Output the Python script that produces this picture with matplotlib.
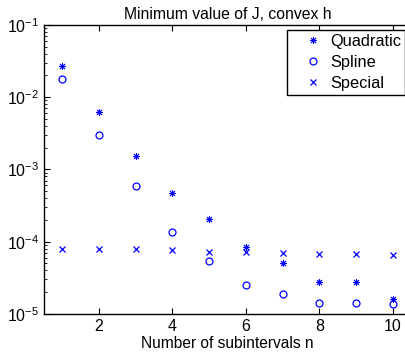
import numpy as np
import matplotlib.pyplot as plt

plt.rcParams['font.family'] = ['Liberation Sans', 'DejaVu Sans']
plt.rcParams['mathtext.fontset'] = 'custom'
plt.rcParams['mathtext.rm'] = 'Liberation Sans'

n = np.arange(1, 11)
quadratic = [2.7e-2, 6.25e-3, 1.54e-3, 4.66e-4, 2.03e-4, 8.45e-5, 5.0e-5, 2.77e-5, 2.77e-5, 1.62e-5]
spline = [1.79e-2, 3.0e-3, 5.9e-4, 1.36e-4, 5.4e-5, 2.52e-5, 1.86e-5, 1.42e-5, 1.42e-5, 1.38e-5]
special = [7.94e-5, 7.94e-5, 7.9e-5, 7.7e-5, 7.3e-5, 7.1e-5, 6.9e-5, 6.7e-5, 6.7e-5, 6.6e-5]

fig = plt.figure(figsize=(4.06, 3.6), dpi=100)
ax = fig.add_axes([0.108, 0.128, 0.905, 0.803])

# asterisk like matlab's '*': 8 spokes
ax.semilogy(n, quadratic, color='b', marker=(8, 2, 0), ms=5, mew=0.7,
            label='Quadratic', linestyle='none')
ax.semilogy(n, spline, 'bo', ms=5, mfc='none', mew=0.9, label='Spline', linestyle='none')
ax.semilogy(n, special, 'bx', ms=4.5, mew=0.9, label='Special', linestyle='none')

ax.set_xlim(0.5, 10.5)
ax.set_ylim(1e-5, 1e-1)
ax.set_xticks([2, 4, 6, 8, 10])
ax.set_yticks([1e-5, 1e-4, 1e-3, 1e-2, 1e-1])
ax.tick_params(which='both', direction='in', top=True, right=True, labelsize=11.5)
ax.tick_params(which='major', length=4)
ax.tick_params(which='minor', length=2)
for s in ax.spines.values():
    s.set_linewidth(1.0)

ax.set_title('Minimum value of J, convex h', fontsize=11.3, pad=4)
ax.set_xlabel('Number of subintervals n', fontsize=11.2, labelpad=1.5)

leg = ax.legend(loc='upper right', bbox_to_anchor=(405 / 406, 1 - 30 / 360),
                bbox_transform=fig.transFigure, borderaxespad=0, fancybox=False,
                framealpha=1, edgecolor='black', fontsize=11.8, handletextpad=-0.25,
                borderpad=0.25, labelspacing=0.36, handlelength=2.6)
leg.get_frame().set_linewidth(1.0)

fig.savefig('out.png', dpi=100)
